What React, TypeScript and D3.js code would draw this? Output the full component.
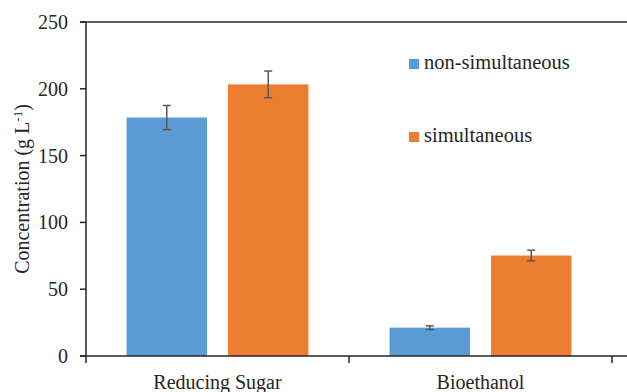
import React from "react";
import * as d3 from "d3";

const categories = ["Reducing Sugar", "Bioethanol"];
const seriesNames = ["non-simultaneous", "simultaneous"];
const nonSimValues = [178.5, 21.2];
const nonSimErrors = [9, 1.4];
const simValues = [203.3, 75.2];
const simErrors = [10, 4];
const yTicks = [0, 50, 100, 150, 200, 250];
const colors = ["#5B9BD5", "#ED7D31"];

const W = 627;
const H = 392;
const left = 86;
const top = 22;
const bottom = 356;
const catRight = 612;
const font = "'Liberation Serif', 'DejaVu Serif', serif";
const axisColor = "#262626";
const textStyle = { fontFamily: font };

export default function App() {
  const y = d3.scaleLinear().domain([0, 250]).range([bottom, top]);
  const x0 = d3.scaleBand<string>().domain(categories).range([left, catRight]).paddingInner(0).paddingOuter(0);
  const x1 = d3
    .scaleBand<string>()
    .domain(seriesNames)
    .range([0, x0.bandwidth()])
    .paddingInner(0.207)
    .paddingOuter(0.4);

  const series = [
    { name: seriesNames[0], values: nonSimValues, errors: nonSimErrors, color: colors[0] },
    { name: seriesNames[1], values: simValues, errors: simErrors, color: colors[1] },
  ];

  const legendY = [64, 137];

  return (
    <svg
      width={W}
      height={H}
      style={{ position: "absolute", left: 0, top: 0, background: "#fff", fontFamily: font }}
    >
      {series.map((s) =>
        categories.map((c, i) => {
          const bx = (x0(c) as number) + (x1(s.name) as number);
          const bw = x1.bandwidth();
          const yv = y(s.values[i]);
          return (
            <rect key={s.name + c} x={bx} y={yv} width={bw} height={bottom - yv} fill={s.color} />
          );
        })
      )}
      {series.map((s) =>
        categories.map((c, i) => {
          const cx = (x0(c) as number) + (x1(s.name) as number) + x1.bandwidth() / 2;
          const yHi = y(s.values[i] + s.errors[i]);
          const yLo = y(s.values[i] - s.errors[i]);
          return (
            <g key={"e" + s.name + c} stroke="#595959" strokeWidth={1.5}>
              <line x1={cx} x2={cx} y1={yHi} y2={yLo} />
              <line x1={cx - 4} x2={cx + 4} y1={yHi} y2={yHi} />
              <line x1={cx - 4} x2={cx + 4} y1={yLo} y2={yLo} />
            </g>
          );
        })
      )}
      <g stroke={axisColor} strokeWidth={1.5}>
        <line x1={left} x2={left} y1={top} y2={bottom} />
        <line x1={left - 6} x2={W} y1={top} y2={top} />
        <line x1={left - 6} x2={W} y1={bottom} y2={bottom} />
        {yTicks.map((t) => (
          <line key={t} x1={left - 6} x2={left} y1={y(t)} y2={y(t)} />
        ))}
        {categories.map((c) => (
          <line key={c} x1={x0(c) as number} x2={x0(c) as number} y1={bottom} y2={bottom + 7} />
        ))}
        <line x1={catRight} x2={catRight} y1={bottom} y2={bottom + 7} />
      </g>
      {yTicks.map((t) => (
        <text key={t} style={textStyle} x={68} y={y(t)} dy="0.35em" textAnchor="end" fontSize={20} fill="#262626">
          {t}
        </text>
      ))}
      {categories.map((c) => (
        <text
          key={c}
          style={textStyle}
          x={(x0(c) as number) + x0.bandwidth() / 2}
          y={389}
          textAnchor="middle"
          fontSize={20}
          fill="#262626"
        >
          {c}
        </text>
      ))}
      <text
        style={textStyle}
        transform={`translate(29, ${(top + bottom) / 2}) rotate(-90)`}
        textAnchor="middle"
        fontSize={20}
        fill="#262626"
      >
        Concentration (g L
        <tspan fontSize={13} dy={-7}>-1</tspan>
        <tspan dy={7}>)</tspan>
      </text>
      {series.map((s, i) => (
        <g key={"l" + s.name}>
          <rect x={409} y={legendY[i] - 5} width={10} height={10} fill={s.color} />
          <text style={textStyle} x={424} y={legendY[i] + 5} fontSize={20.5} fill="#262626">
            {s.name}
          </text>
        </g>
      ))}
    </svg>
  );
}
